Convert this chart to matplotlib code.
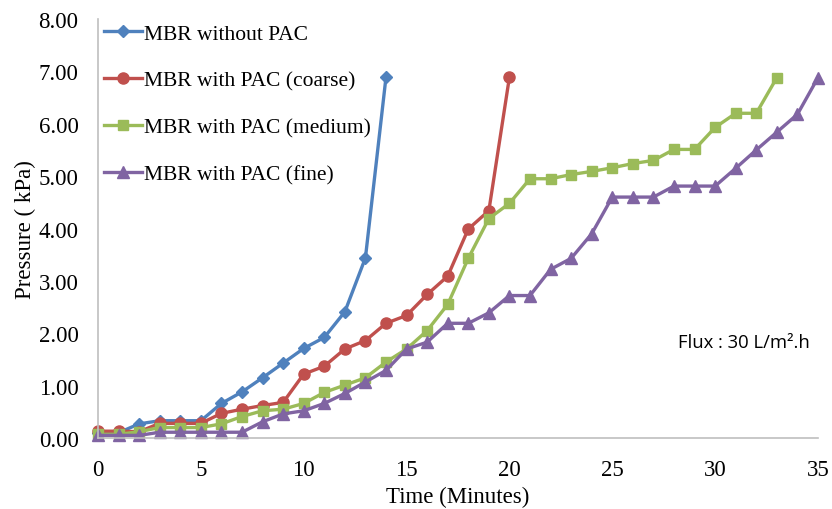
import matplotlib
matplotlib.use("Agg")
import matplotlib.pyplot as plt

time_without = list(range(0, 15))
p_without = [0.10, 0.10, 0.27, 0.33, 0.33, 0.33, 0.66, 0.88, 1.15, 1.43, 1.71, 1.92, 2.41, 3.44, 6.89]

time_coarse = list(range(0, 21))
p_coarse = [0.13, 0.13, 0.12, 0.28, 0.28, 0.28, 0.47, 0.55, 0.62, 0.68, 1.22, 1.37, 1.70, 1.86,
            2.19, 2.34, 2.74, 3.09, 3.99, 4.34, 6.89]

time_medium = list(range(0, 34))
p_medium = [0.07, 0.07, 0.12, 0.20, 0.20, 0.20, 0.27, 0.41, 0.52, 0.55, 0.66, 0.87, 1.01, 1.15,
            1.45, 1.70, 2.05, 2.55, 3.43, 4.19, 4.48, 4.95, 4.95, 5.03, 5.09, 5.16, 5.24, 5.30,
            5.51, 5.51, 5.93, 6.20, 6.20, 6.88]

time_fine = list(range(0, 36))
p_fine = [0.05, 0.05, 0.05, 0.11, 0.11, 0.11, 0.11, 0.11, 0.31, 0.46, 0.52, 0.66, 0.85, 1.07,
          1.29, 1.70, 1.83, 2.19, 2.19, 2.39, 2.72, 2.72, 3.22, 3.43, 3.90, 4.60, 4.60, 4.60,
          4.81, 4.81, 4.81, 5.15, 5.50, 5.84, 6.18, 6.88]

labels = ["MBR without PAC", "MBR with PAC (coarse)", "MBR with PAC (medium)", "MBR with PAC (fine)"]
colors = ["#4F81BD", "#C0504D", "#9BBB59", "#8064A2"]
markers = ["D", "o", "s", "^"]
msizes = [6, 8, 7, 8]

x_ticks = [0, 5, 10, 15, 20, 25, 30, 35]
y_ticks = [0, 1, 2, 3, 4, 5, 6, 7, 8]

serif = ["Liberation Serif", "DejaVu Serif"]

fig = plt.figure(figsize=(8.32, 5.10), dpi=100)
ax = fig.add_axes([98/832, 1 - 439/510, 720/832, 419/510])

series = [(time_without, p_without), (time_coarse, p_coarse), (time_medium, p_medium), (time_fine, p_fine)]
for (t, p), lab, c, m, ms in zip(series, labels, colors, markers, msizes):
    ax.plot(t, p, color=c, marker=m, markersize=ms, linewidth=2.4, label=lab, clip_on=False)

ax.set_xlim(0, 35)
ax.set_ylim(0, 8)
ax.set_xticks(x_ticks)
ax.set_yticks(y_ticks)
ax.set_yticklabels([f"{v:.2f}" for v in y_ticks])
ax.tick_params(axis="both", length=0, labelsize=16.5)
ax.tick_params(axis="x", pad=15)
ax.tick_params(axis="y", pad=14)
for lbl in ax.get_xticklabels() + ax.get_yticklabels():
    lbl.set_family(serif)

for s in ["top", "right"]:
    ax.spines[s].set_visible(False)
for s in ["left", "bottom"]:
    ax.spines[s].set_color("#BFBFBF")
    ax.spines[s].set_linewidth(1.2)

ax.set_xlabel("Time (Minutes)", fontsize=16.5, family=serif, labelpad=4)
ax.set_ylabel("Pressure ( kPa)", fontsize=16.5, family=serif, labelpad=2)

leg = ax.legend(loc="upper left", bbox_to_anchor=(-0.009, 1.02), frameon=False,
                prop={"family": serif, "size": 15.5}, handlelength=1.75, handletextpad=0.1,
                labelspacing=1.25, borderaxespad=0.2)

ax.text(0.989, 0.23, "Flux : 30 L/m².h", transform=ax.transAxes, fontsize=13.3,
        family=["Open Sans", "DejaVu Sans"], ha="right", va="center")

fig.savefig("out.png", dpi=100)
